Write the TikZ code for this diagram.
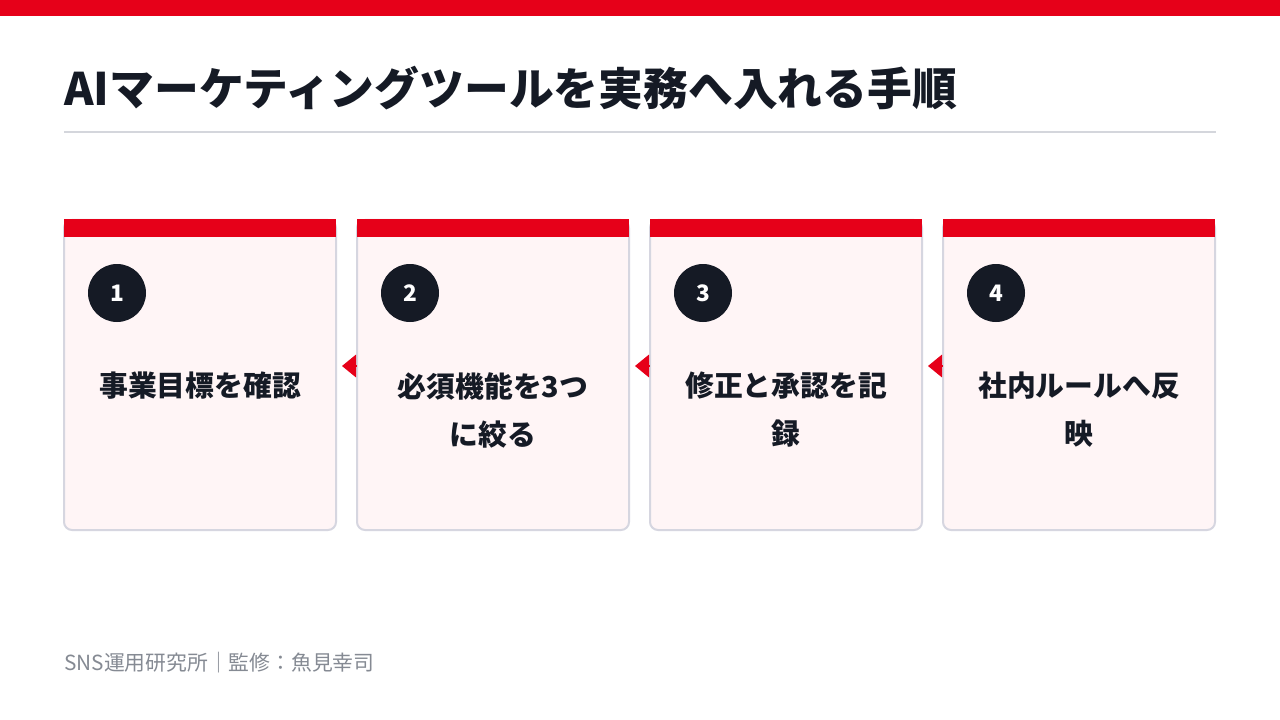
\documentclass[tikz,border=0pt]{standalone}
\usepackage{fontspec}
\setmainfont{Noto Sans CJK JP}
\usetikzlibrary{arrows.meta}
\definecolor{brandred}{HTML}{E60019}
\definecolor{ink}{HTML}{151A25}
\definecolor{cardfill}{HTML}{FFF5F6}
\definecolor{cardline}{HTML}{D6D6E0}
\definecolor{rule}{HTML}{D4D6DC}
\definecolor{foot}{HTML}{858A93}
\tikzset{
  card/.style={draw=cardline, line width=1.5pt, fill=cardfill, rounded corners=6pt,
    minimum width=204pt, minimum height=232.5pt, inner sep=0pt},
  redbar/.style={fill=brandred, draw=none},
  badge/.style={circle, fill=ink, minimum size=43.5pt, inner sep=0pt,
    text=white, font=\bfseries\fontsize{17}{18}\selectfont},
  cardtext/.style={anchor=north, align=center, inner sep=0pt, text=ink,
    font=\bfseries\fontsize{21.6}{36}\selectfont},
  flow/.style={draw=brandred, fill=brandred, line width=0.8pt,
    -{Triangle[length=10.5pt,width=17pt]}, shorten >=3.75pt}
}
\begin{document}
\begin{tikzpicture}[x=0.75pt,y=-0.75pt]
\useasboundingbox (0,0) rectangle (1280,720);
\fill[white] (0,0) rectangle (1280,720);
\fill[brandred] (0,0) rectangle (1280,16);
\node[anchor=west, inner sep=0pt, text=ink, font=\bfseries\fontsize{33.6}{40}\selectfont] (title) at (64,88) {AIマーケティングツールを実務へ入れる手順};
\draw[rule, line width=1.5pt] (64,132) -- (1216,132);
\foreach \i/\x/\t in {1/64/{事業目標を確認}, 2/357/{必須機能を3つ\\に絞る}, 3/650/{修正と承認を記\\録}, 4/943/{社内ルールへ反\\映}} {
  \node[card] (c\i) at (\x+136,375) {};
  \fill[redbar] (\x,219.5) rectangle (\x+272,237);
  \node[badge] (b\i) at (\x+53,293) {\i};
  \node[cardtext] (t\i) at (\x+136,372) {\t};
}
\draw[flow] ([yshift=6.75pt]c2.west) -- ([yshift=6.75pt]c1.east);
\draw[flow] ([yshift=6.75pt]c3.west) -- ([yshift=6.75pt]c2.east);
\draw[flow] ([yshift=6.75pt]c4.west) -- ([yshift=6.75pt]c3.east);
\node[anchor=west, inner sep=0pt, text=foot, font=\fontsize{15.6}{18}\selectfont] (footer) at (64,663) {SNS運用研究所｜監修：魚見幸司};
\end{tikzpicture}
\end{document}
